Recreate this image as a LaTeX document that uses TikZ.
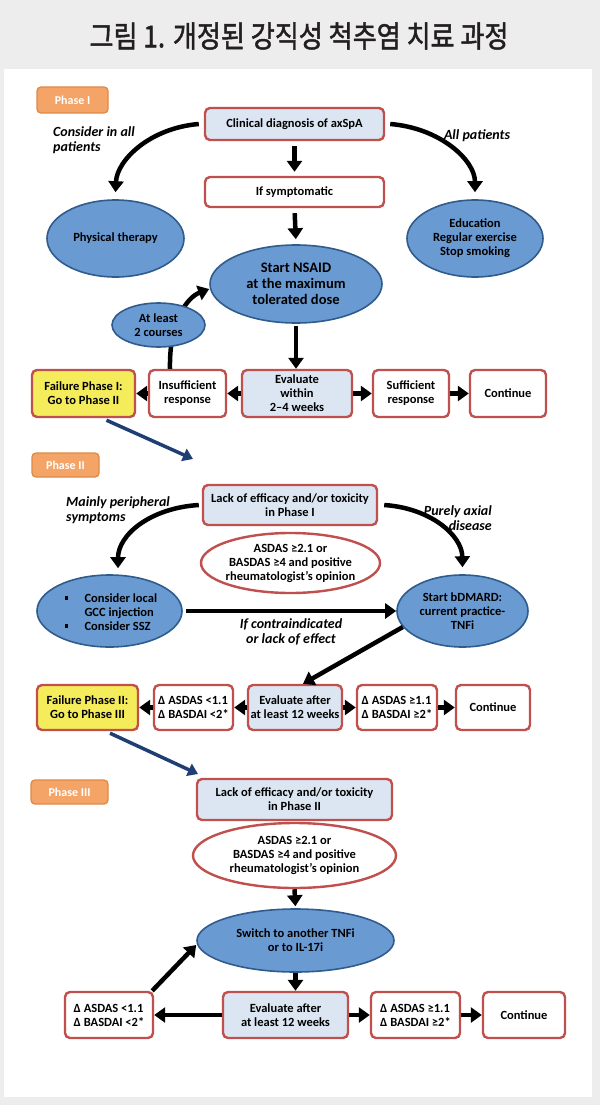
\documentclass[tikz,border=0pt]{standalone}
\usepackage{graphicx}
\usepackage{fontspec}
\setmainfont{Carlito}
\newfontfamily\krfont{Noto Sans CJK KR}[FakeBold=1.6]
\usetikzlibrary{arrows.meta,shapes.geometric}
\definecolor{bggray}{HTML}{EDEDED}
\definecolor{boxred}{HTML}{C0504D}
\definecolor{lblue}{HTML}{DCE6F2}
\definecolor{ellblue}{HTML}{6A9AD2}
\definecolor{elldark}{HTML}{2F5C8C}
\definecolor{yel}{HTML}{F4EC5A}
\definecolor{orfill}{HTML}{F5A468}
\definecolor{ordraw}{HTML}{DE8A45}
\definecolor{navyc}{HTML}{1F3E74}
\definecolor{titlec}{HTML}{231F20}
\newcommand{\bxf}{\fontsize{12.5}{14}\selectfont\bfseries}
\newcommand{\bigf}{\fontsize{14.5}{16}\selectfont\bfseries}
\newcommand{\lblf}{\fontsize{14}{15}\selectfont\bfseries\itshape}
\newcommand{\phf}{\fontsize{12}{14}\selectfont\bfseries}
\begin{document}
\begin{tikzpicture}[x=1pt,y=-1pt,
  boxstyle/.style={draw=boxred, line width=2.4pt, rounded corners=5pt, fill=white, align=center, font=\bxf, inner sep=0pt},
  bluebox/.style={boxstyle, fill=lblue},
  yelbox/.style={boxstyle, fill=yel},
  phasebox/.style={draw=ordraw, fill=orfill, line width=1.3pt, rounded corners=4pt, text=white, font=\phf, inner sep=0pt},
  blueell/.style={ellipse, draw=elldark, fill=ellblue, line width=1.6pt, align=center, font=\bxf, inner sep=0pt},
  redell/.style={ellipse, draw=boxred, fill=white, line width=2.4pt, align=center, font=\bxf, inner xsep=-8pt, inner ysep=0pt},
  lbl/.style={font=\lblf, inner sep=0pt},
  blk/.style={line width=4.5pt, draw=black, -{Triangle[width=15pt,length=11pt]}},
  navyarr/.style={line width=3.5pt, draw=navyc, -{Triangle[width=13pt,length=10pt]}}
]
\useasboundingbox (0,0) rectangle (600,1105);
\fill[bggray] (0,0) rectangle (600,1105);
\fill[white] (4,69) rectangle (592,1097);
\node[text=titlec] (title) at (299,36) {\krfont\fontsize{30}{32}\selectfont\scalebox{0.87}[1]{그림 1. 개정된 강직성 척추염 치료 과정}};

% ---------------- Phase I ----------------
\node[phasebox, minimum width=71pt, minimum height=26pt] (ph1) at (72.5,100) {Phase I};
\node[bluebox, minimum width=179pt, minimum height=32pt] (clin) at (294.5,124) {Clinical diagnosis of axSpA};
\node[boxstyle, minimum width=179pt, minimum height=30pt] (ifsym) at (294.5,192) {If symptomatic};
\node[blueell, font=\bigf, minimum width=172pt, minimum height=78pt] (nsaid) at (296,284) {Start NSAID\\at the maximum\\tolerated dose};
\node[blueell, minimum width=137pt, minimum height=77pt] (phys) at (115.5,238.5) {Physical therapy};
\node[blueell, minimum width=136pt, minimum height=77pt] (edu) at (475,238.5) {Education\\Regular exercise\\Stop smoking};
\node[lbl, align=left, anchor=west] (lblall) at (53,140) {Consider in all\\patients};
\node[lbl] (lblallp) at (477,135.5) {All patients};

\node[yelbox, minimum width=103pt, minimum height=47pt] (fail1) at (83.5,393.5) {Failure Phase I:\\Go to Phase II};
\node[boxstyle, minimum width=77pt, minimum height=47pt] (insuf) at (187.5,393.5) {Insufficient\\response};
\node[bluebox, minimum width=110pt, minimum height=47pt] (eval1) at (297,393.5) {Evaluate\\within\\2–4 weeks};
\node[boxstyle, minimum width=76pt, minimum height=47pt] (suff) at (411,393.5) {Sufficient\\response};
\node[boxstyle, minimum width=76pt, minimum height=47pt] (cont1) at (508,393.5) {Continue};

\draw[blk] ([xshift=-5pt]clin.west) .. controls (150,128) and (117,160) .. ([yshift=7pt]phys.north);
\draw[blk] ([xshift=5pt]clin.east) .. controls (440,128) and (475,160) .. ([yshift=7pt]edu.north);
\draw[blk, shorten <=5pt, shorten >=4pt] (clin.south) -- (ifsym.north);
\draw[blk, shorten <=5pt, shorten >=5pt] (ifsym.south) -- (nsaid.north);
\draw[blk, shorten <=2pt] (nsaid.south) -- (nsaid.south |- eval1.north);
\draw[blk] (eval1.west) -- (insuf.east);
\draw[blk] (insuf.west) -- (fail1.east);
\draw[blk] (eval1.east) -- (suff.west);
\draw[blk] (suff.east) -- (cont1.west);
\draw[blk] ([xshift=-17.5pt]insuf.north) .. controls (169,320) and (188,297) .. ([yshift=-5pt]nsaid.west);
\node[blueell, minimum width=93pt, minimum height=44pt] (least) at (158.5,325) {At least\\2 courses};

\coordinate (p2in) at (193,459);
\draw[navyarr] ([xshift=23pt,yshift=-2pt]fail1.south) -- (p2in);

% ---------------- Phase II ----------------
\node[phasebox, minimum width=67pt, minimum height=24pt] (ph2) at (65.5,465) {Phase II};
\node[bluebox, minimum width=174pt, minimum height=40pt] (lack1) at (290,505) {Lack of efficacy and/or toxicity\\in Phase I};
\node[redell, minimum width=179pt, minimum height=60pt] (asdas1) at (290.5,563) {ASDAS ≥2.1 or\\BASDAS ≥4 and positive\\rheumatologist’s opinion};
\node[blueell, minimum width=145pt, minimum height=72pt] (cons) at (109.5,611) {};
\node[font=\bxf, align=left, anchor=west] (constxt) at (81,612) {\llap{\rule[2.5pt]{3.5pt}{3.5pt}\hspace{16.5pt}}Consider local\\GCC injection\\\llap{\rule[2.5pt]{3.5pt}{3.5pt}\hspace{16.5pt}}Consider SSZ};
\node[blueell, minimum width=131pt, minimum height=72pt] (bdm) at (462.5,611) {Start bDMARD:\\current practice-\\TNFi};
\node[lbl, align=left, anchor=west] (lblper) at (66,510) {Mainly peripheral\\symptoms};
\node[lbl, align=right, anchor=east] (lblax) at (492,518) {Purely axial\\disease};
\node[lbl, align=center] (lblci) at (291,632) {If contraindicated\\or lack of effect};

\draw[blk] ([xshift=-3pt]lack1.west) .. controls (150,508) and (118,535) .. ([xshift=8.5pt,yshift=6pt]cons.north);
\draw[blk] ([xshift=6pt]lack1.east) .. controls (430,508) and (462,535) .. ([yshift=7pt]bdm.north);
\draw[blk, shorten <=3pt] (cons.east) -- (bdm.west);

\node[yelbox, minimum width=101pt, minimum height=45pt] (fail2) at (87.5,707.5) {Failure Phase II:\\Go to Phase III};
\node[boxstyle, align=left, minimum width=79pt, minimum height=45pt] (dlt2) at (193.5,707.5) {Δ ASDAS <1.1\\Δ BASDAI <2*};
\node[bluebox, minimum width=94pt, minimum height=45pt] (eval2) at (295,707.5) {Evaluate after\\at least 12 weeks};
\node[boxstyle, align=left, minimum width=80pt, minimum height=45pt] (dge2) at (397,707.5) {Δ ASDAS ≥1.1\\Δ BASDAI ≥2*};
\node[boxstyle, minimum width=74pt, minimum height=45pt] (cont2) at (493,707.5) {Continue};

\draw[blk] (bdm.195) -- ([xshift=8pt]eval2.north);
\draw[blk] (eval2.west) -- (dlt2.east);
\draw[blk] (dlt2.west) -- (fail2.east);
\draw[blk] (eval2.east) -- (dge2.west);
\draw[blk] (dge2.east) -- (cont2.west);

\coordinate (p3in) at (198,774);
\draw[navyarr] ([xshift=22.5pt,yshift=-2pt]fail2.south) -- (p3in);

% ---------------- Phase III ----------------
\node[phasebox, minimum width=77pt, minimum height=24pt] (ph3) at (69.5,792) {Phase III};
\node[bluebox, minimum width=195pt, minimum height=41pt] (lack2) at (294.5,799.5) {Lack of efficacy and/or toxicity\\in Phase II};
\node[redell, minimum width=203pt, minimum height=65pt] (asdas2) at (294.5,855.5) {ASDAS ≥2.1 or\\BASDAS ≥4 and positive\\rheumatologist’s opinion};
\node[blueell, minimum width=197pt, minimum height=63pt] (switch) at (295.5,940.5) {Switch to another TNFi\\or to IL-17i};

\node[boxstyle, align=left, minimum width=88pt, minimum height=46pt] (dlt3) at (109,1015) {Δ ASDAS <1.1\\Δ BASDAI <2*};
\node[bluebox, minimum width=125pt, minimum height=46pt] (eval3) at (285.5,1015) {Evaluate after\\at least 12 weeks};
\node[boxstyle, align=left, minimum width=89pt, minimum height=46pt] (dge3) at (415.5,1015) {Δ ASDAS ≥1.1\\Δ BASDAI ≥2*};
\node[boxstyle, minimum width=82pt, minimum height=46pt] (cont3) at (524,1015) {Continue};

\draw[blk, shorten >=2pt] (asdas2.south) -- (switch.north);
\draw[blk] (switch.south) -- (switch.south |- eval3.north);
\draw[blk] (eval3.west) -- (dlt3.east);
\draw[blk] (eval3.east) -- (dge3.west);
\draw[blk] (dge3.east) -- (cont3.west);
\draw[blk] ([xshift=-2pt]dlt3.north east) -- ([yshift=-4.5pt]switch.west);
\end{tikzpicture}
\end{document}
